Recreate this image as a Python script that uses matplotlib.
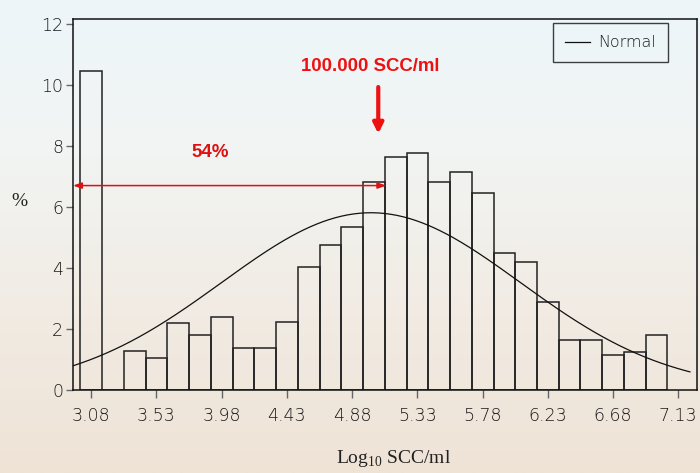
import numpy as np
import matplotlib
matplotlib.use("Agg")
import matplotlib.pyplot as plt
from matplotlib.colors import LinearSegmentedColormap

plt.rcParams["mathtext.fontset"] = "custom"
plt.rcParams["mathtext.rm"] = "Liberation Serif"

# histogram of log10 SCC/ml, bin width 0.15, centred on these values
bin_centers = [3.08, 3.23, 3.38, 3.53, 3.68, 3.83, 3.98, 4.13, 4.28, 4.43,
               4.58, 4.73, 4.88, 5.03, 5.18, 5.33, 5.48, 5.63, 5.78, 5.93,
               6.08, 6.23, 6.38, 6.53, 6.68, 6.83, 6.98]
percent = [10.45, 0.0, 1.28, 1.06, 2.20, 1.81, 2.39, 1.36, 1.36, 2.24,
           4.02, 4.74, 5.33, 6.83, 7.65, 7.77, 6.83, 7.14, 6.47, 4.50,
           4.19, 2.88, 1.65, 1.65, 1.15, 1.23, 1.79]
xtick_vals = [3.08, 3.53, 3.98, 4.43, 4.88, 5.33, 5.78, 6.23, 6.68, 7.13]
ytick_vals = [0, 2, 4, 6, 8, 10, 12]
bin_width = 0.15

# fitted normal curve parameters
normal_mean = 5.01
normal_sd = 1.03

fig = plt.figure(figsize=(7, 4.73), dpi=100)

# slide-like background: pale blue at top fading to beige at bottom
bg = fig.add_axes([0, 0, 1, 1], zorder=-10)
bg_cmap = LinearSegmentedColormap.from_list(
    "bg", ["#edf6fa", "#f2f4f2", "#f1ebe3", "#efe3d6"])
grad = np.linspace(0, 1, 256).reshape(-1, 1)
bg.imshow(grad, aspect="auto", cmap=bg_cmap, extent=[0, 1, 0, 1], origin="upper")
bg.axis("off")

ax = fig.add_axes([0.104, 0.1755, 0.892, 0.785])
ax.patch.set_alpha(0)

ax.bar(bin_centers, percent, width=bin_width, fill=False,
       edgecolor="#222222", linewidth=1.1)

xs = np.linspace(2.955, 7.21, 300)
dens = 100 * bin_width / (normal_sd * np.sqrt(2 * np.pi)) * \
    np.exp(-0.5 * ((xs - normal_mean) / normal_sd) ** 2)
ax.plot(xs, dens, color="#111111", linewidth=0.9, label="Normal")

ax.set_xlim(2.953, 7.26)
ax.set_ylim(0, 12.17)
ax.set_xticks(xtick_vals)
ax.set_xticklabels([f"{v:.2f}" for v in xtick_vals])
ax.set_yticks(ytick_vals)

for lab in ax.get_xticklabels() + ax.get_yticklabels():
    lab.set_fontfamily("DejaVu Sans")
    lab.set_fontsize(12.5)
    lab.set_fontweight("light")
    lab.set_color("#1a1a1a")
ax.tick_params(axis="x", length=6, width=1, color="#666666", pad=6)
ax.tick_params(axis="y", length=5, width=1, color="#666666", pad=2)
for sp in ax.spines.values():
    sp.set_color("#111111")
    sp.set_linewidth(1.1)

leg = ax.legend(loc="upper right", bbox_to_anchor=(0.953, 0.988), fancybox=False,
                frameon=True, handlelength=1.6, handletextpad=0.5,
                borderpad=0.75, borderaxespad=0,
                prop=dict(family="DejaVu Sans", size=11.5, weight="light"))
leg.get_frame().set_edgecolor("#111111")
leg.get_frame().set_linewidth(1.0)
leg.get_frame().set_facecolor("none")
for t in leg.get_texts():
    t.set_color("#1a1a1a")

# annotations
red = "#ee1111"
ax.annotate("", xy=(5.06, 8.4), xytext=(5.06, 9.93),
            arrowprops=dict(arrowstyle="-|>,head_width=0.3,head_length=0.6",
                            color=red, lw=3, shrinkA=0, shrinkB=0))
ax.annotate("", xy=(2.955, 6.7), xytext=(5.115, 6.7),
            arrowprops=dict(arrowstyle="<|-|>,head_width=0.18,head_length=0.5",
                            color="#dd1111", lw=1.1, shrinkA=0, shrinkB=0))
fig.text(0.529, 0.859, "100.000 SCC/ml", color=red, fontsize=13.4,
         fontweight="bold", family="Liberation Sans", ha="center", va="center")
fig.text(0.300, 0.677, "54%", color="#dd1111", fontsize=13.5,
         fontweight="bold", family="Liberation Sans", ha="center", va="center")

fig.text(0.028, 0.575, "%", family="Liberation Serif", fontsize=14,
         color="#222222", ha="center", va="center")
fig.text(0.562, 0.031, r"Log$_{10}$ SCC/ml", family="Liberation Serif",
         fontsize=14, color="#222222", ha="center", va="center")

fig.savefig("out.png", dpi=100)
